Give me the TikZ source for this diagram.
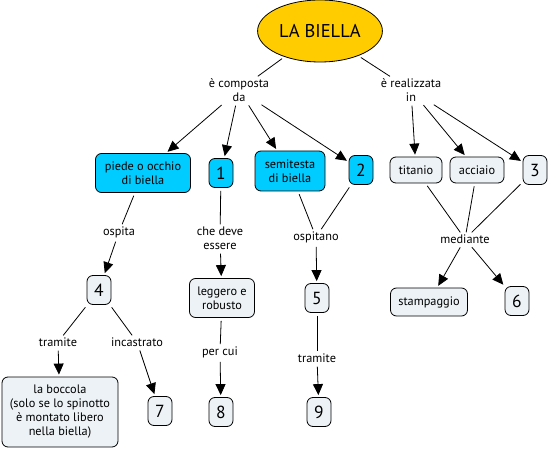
\documentclass[tikz,border=0pt]{standalone}
\usepackage{fontspec}
\setmainfont{PT Sans}
\usetikzlibrary{arrows.meta, shapes.geometric}

\definecolor{cmapblue}{RGB}{0,204,255}
\definecolor{cmapgrey}{RGB}{236,242,245}
\definecolor{cmapyellow}{RGB}{255,204,0}

\begin{document}
\begin{tikzpicture}[
    x=1pt, y=-1pt,
    >={Triangle[length=11pt,width=10pt]},
    topic/.style={
        draw,
        ellipse,
        line width=0.8pt,
        minimum width=108pt,
        minimum height=62pt,
        fill=cmapyellow,
        font=\fontsize{18.5}{20}\selectfont
    },
    concept/.style={
        draw,
        rectangle,
        rounded corners=6pt,
        line width=0.8pt,
        inner sep=2pt,
        align=center,
        font=\fontsize{12.3}{14}\selectfont
    },
    partbox/.style={concept, fill=cmapblue},
    matbox/.style={concept, fill=cmapgrey},
    numbox/.style={minimum width=24pt, minimum height=29pt, font=\fontsize{17.5}{20}\selectfont},
    link/.style={inner sep=2pt, align=center, font=\fontsize{12.3}{14}\selectfont},
    line/.style={line width=0.8pt, shorten <=3pt},
    arrow/.style={->, line width=0.8pt, shorten <=2pt, shorten >=2pt}
]
\useasboundingbox (0,0) rectangle (551,449);

% root and first linking phrases
\node[topic] (root) at (320,31) {LA BIELLA};
\node[link] (comp) at (239,90) {è composta\\da};
\node[link] (real) at (411,90) {è realizzata\\in};

% parts of the rod
\node[partbox, minimum width=95pt, minimum height=39pt] (piede) at (143,173) {piede o occhio\\di biella};
\node[partbox, numbox] (n1) at (221,173) {1};
\node[partbox, minimum width=70pt, minimum height=40pt] (semi) at (290,171) {semitesta\\di biella};
\node[partbox, numbox] (n2) at (361,170) {2};

% materials
\node[matbox, minimum width=52pt, minimum height=26pt] (titanio) at (416,170) {titanio};
\node[matbox, minimum width=54pt, minimum height=26pt] (acciaio) at (477,170) {acciaio};
\node[matbox, numbox] (n3) at (535,170) {3};

% second level
\node[link] (ospita) at (119,232) {ospita};
\node[link] (deve) at (220,238) {che deve\\essere};
\node[link] (ospitano) at (316,237) {ospitano};
\node[link] (mediante) at (465,239) {mediante};

\node[matbox, numbox] (n4) at (99,290) {4};
\node[matbox, minimum width=65pt, minimum height=39pt] (leggero) at (222,298) {leggero e\\robusto};
\node[matbox, numbox] (n5) at (317,298) {5};
\node[matbox, minimum width=77pt, minimum height=28pt] (stamp) at (429,302) {stampaggio};
\node[matbox, numbox] (n6) at (517,301) {6};

% bottom level
\node[link] (tram1) at (58,342) {tramite};
\node[link] (incas) at (137,342) {incastrato};
\node[link] (percui) at (220,352) {per cui};
\node[link] (tram2) at (317,358) {tramite};

\node[matbox, minimum width=116pt, minimum height=70pt] (bocc) at (60,412) {la boccola\\(solo se lo spinotto\\è montato libero\\nella biella)};
\node[matbox, numbox] (n7) at (160,411) {7};
\node[matbox, numbox] (n8) at (221,412) {8};
\node[matbox, numbox] (n9) at (319,412) {9};

% connectors
\draw[line] (root) -- (comp);
\draw[line] (root) -- (real);
\draw[arrow] (comp) -- (piede);
\draw[arrow] (comp) -- (n1);
\draw[arrow] (comp) -- (semi);
\draw[arrow] (comp) -- (n2);
\draw[arrow] (real) -- (titanio);
\draw[arrow] (real) -- (acciaio);
\draw[arrow] (real) -- (n3);

\draw[line] (piede) -- (ospita);
\draw[arrow] (ospita) -- (n4);
\draw[line] (n1) -- (deve);
\draw[arrow] (deve) -- (leggero);
\draw[line] (semi) -- (ospitano);
\draw[line] (n2) -- (ospitano);
\draw[arrow] (ospitano) -- (n5);
\draw[line] (titanio) -- (mediante);
\draw[line] (acciaio) -- (mediante);
\draw[line] (n3) -- (mediante);
\draw[arrow] (mediante) -- (stamp);
\draw[arrow] (mediante) -- (n6);

\draw[line] (n4) -- (tram1);
\draw[arrow] (tram1) -- (bocc);
\draw[line] (n4) -- (incas);
\draw[arrow] (incas) -- (n7);
\draw[line] (leggero) -- (percui);
\draw[arrow] (percui) -- (n8);
\draw[line] (n5) -- (tram2);
\draw[arrow] (tram2) -- (n9);

\end{tikzpicture}
\end{document}
